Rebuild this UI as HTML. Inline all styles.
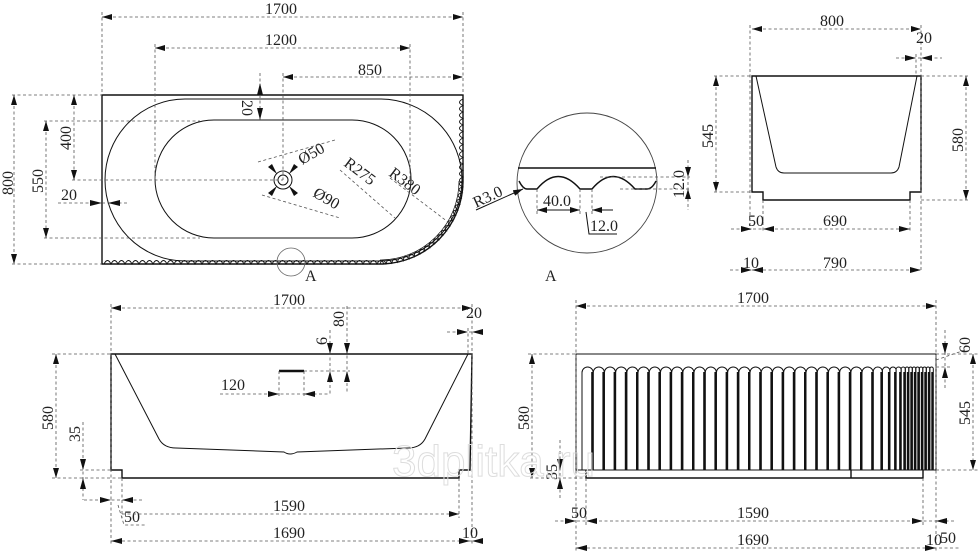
<!DOCTYPE html>
<html><head><meta charset="utf-8"><style>
html,body{margin:0;padding:0;background:#fff;}
svg{display:block}
text{font-family:"Liberation Serif","DejaVu Serif",serif;font-size:16px;fill:#222;}
.d{stroke:#555;stroke-width:0.8;stroke-dasharray:3 2.5;fill:none}
.s{stroke:#111;stroke-width:1.4;fill:none}
.t{stroke:#111;stroke-width:1;fill:none}
.wm{font-family:"Liberation Sans",sans-serif;font-size:44px;fill:none;stroke:#ddd;stroke-width:1}
</style></head><body>
<svg id="sv" width="978" height="553" viewBox="0 0 978 553" xmlns="http://www.w3.org/2000/svg">
<defs>
<marker id="a" viewBox="0 0 10 6" refX="10" refY="3" markerWidth="10" markerHeight="6" orient="auto-start-reverse" markerUnits="userSpaceOnUse"><path d="M0,0L10,3L0,6z" fill="#111"/></marker>
</defs>
<g id="g">
<path class="s" d="M102,95 H463 V182 A83,83 0 0 1 383,264 H102 Z"/>
<path class="t" d="M185,99 H380 A82,81 0 0 1 462,180 A82,81 0 0 1 380,261 H185 A80,81 0 0 1 185,99 Z"/>
<rect class="t" x="155" y="120" width="256" height="118" rx="59" ry="59"/>
<circle class="t" cx="283" cy="180" r="9"/><circle class="t" cx="283" cy="180" r="5"/>
<g id="scal"></g>
<circle cx="291" cy="262" r="14" fill="none" stroke="#666" stroke-width="0.8"/>
<text x="305" y="281" font-size="14">A</text>
<line class="d" x1="102" y1="12" x2="102" y2="95"/><line class="d" x1="463" y1="12" x2="463" y2="95"/>
<line class="d" x1="102" y1="17" x2="463" y2="17" marker-start="url(#a)" marker-end="url(#a)"/>
<text x="265" y="14">1700</text>
<line class="d" x1="155" y1="44" x2="155" y2="180"/><line class="d" x1="410" y1="44" x2="410" y2="180"/>
<line class="d" x1="155" y1="48" x2="410" y2="48" marker-start="url(#a)" marker-end="url(#a)"/>
<text x="265" y="45">1200</text>
<line class="d" x1="283" y1="73" x2="283" y2="180"/>
<line class="d" x1="283" y1="77" x2="463" y2="77" marker-start="url(#a)" marker-end="url(#a)"/>
<text x="358" y="75">850</text>
<line class="d" x1="260" y1="73" x2="260" y2="120"/>
<path d="M260,83 L257,95 L263,95Z M260,120 L257,108 L263,108Z" fill="#111"/>
<text transform="translate(242,100) rotate(90)" font-size="15">20</text>
<line class="d" x1="12" y1="95" x2="102" y2="95"/><line class="d" x1="12" y1="264" x2="102" y2="264"/>
<line class="d" x1="14" y1="95" x2="14" y2="264" marker-start="url(#a)" marker-end="url(#a)"/>
<text transform="translate(13,195) rotate(-90)">800</text>
<line class="d" x1="44" y1="121" x2="200" y2="121"/><line class="d" x1="44" y1="238" x2="200" y2="238"/>
<line class="d" x1="46" y1="121" x2="46" y2="238" marker-start="url(#a)" marker-end="url(#a)"/>
<text transform="translate(43,193) rotate(-90)">550</text>
<line class="d" x1="72" y1="180" x2="283" y2="180"/>
<line class="d" x1="74" y1="95" x2="74" y2="180" marker-start="url(#a)" marker-end="url(#a)"/>
<text transform="translate(71,150) rotate(-90)">400</text>
<line class="d" x1="58" y1="203" x2="128" y2="203"/>
<path d="M102,203 L90,200 L90,206Z M108,203 L120,200 L120,206Z" fill="#111"/>
<text x="61" y="200" font-size="15">20</text>
<line class="d" x1="258" y1="162" x2="335" y2="140"/>
<line class="d" x1="262" y1="195" x2="340" y2="218"/>
<path d="M277,174 L268,167 L272,164Z M289,186 L298,193 L294,196Z M289,174 L298,167 L294,164Z M277,186 L268,193 L272,196Z" fill="#111"/>
<text transform="translate(302,165) rotate(-30)">Ø50</text>
<text transform="translate(312,196) rotate(30)">Ø90</text>
<line class="d" x1="340" y1="170" x2="395" y2="218"/>
<text transform="translate(343,165) rotate(37)">R275</text>
<line class="d" x1="390" y1="178" x2="448" y2="222"/>
<text transform="translate(388,175) rotate(37)">R380</text>
<circle cx="587" cy="183" r="70" fill="none" stroke="#444" stroke-width="0.9"/>
<line class="s" x1="518" y1="168" x2="656" y2="168"/>
<path class="s" d="M519,181 Q523,189 527,189 H537 Q558,164 580,189 H592 Q613,164 635,189 H647 Q652,189 656,181"/>
<line class="d" x1="600" y1="177" x2="690" y2="177"/><line class="d" x1="620" y1="189" x2="690" y2="189"/>
<line class="d" x1="688" y1="160" x2="688" y2="210"/>
<path d="M688,177 L685,167 L691,167Z M688,189 L685,199 L691,199Z" fill="#111"/>
<text transform="translate(684,198) rotate(-90)" font-size="14">12.0</text>
<line class="d" x1="537" y1="189" x2="537" y2="215"/><line class="d" x1="580" y1="189" x2="580" y2="215"/><line class="d" x1="592" y1="189" x2="592" y2="215"/>
<line class="t" x1="537" y1="210" x2="580" y2="210" marker-start="url(#a)" marker-end="url(#a)"/>
<line class="t" x1="592" y1="210" x2="613" y2="210" marker-start="url(#a)"/>
<text x="543" y="206" font-size="15">40.0</text>
<path class="t" d="M586,212 L589,234 H617"/>
<text x="590" y="231" font-size="15">12.0</text>
<line class="t" x1="476" y1="210" x2="523" y2="189" marker-end="url(#a)"/>
<text transform="translate(476,208) rotate(-25)" font-size="15">R3.0</text>
<text x="545" y="281" font-size="17">A</text>
<path class="s" d="M752,76 H921 V192 H910 V200 H763 V192 H752 Z"/>
<path class="t" d="M756,76 L776,167 Q778,173 784,173 H891 Q897,173 899,167 L917,76"/>
<line class="d" x1="750" y1="25" x2="750" y2="230"/><line class="d" x1="921" y1="25" x2="921" y2="270"/>
<line class="d" x1="752" y1="29" x2="921" y2="29" marker-start="url(#a)" marker-end="url(#a)"/>
<text x="820" y="26">800</text>
<line class="d" x1="896" y1="58" x2="942" y2="58"/><line class="d" x1="916" y1="54" x2="916" y2="76"/>
<path d="M916,58 L905,55 L905,61Z M921,58 L932,55 L932,61Z" fill="#111"/>
<text x="916" y="43" font-size="15">20</text>
<line class="d" x1="714" y1="76" x2="752" y2="76"/><line class="d" x1="714" y1="192" x2="752" y2="192"/>
<line class="d" x1="716" y1="76" x2="716" y2="192" marker-start="url(#a)" marker-end="url(#a)"/>
<text transform="translate(713,148) rotate(-90)">545</text>
<line class="d" x1="921" y1="76" x2="970" y2="76"/><line class="d" x1="921" y1="200" x2="970" y2="200"/>
<line class="d" x1="966" y1="76" x2="966" y2="200" marker-start="url(#a)" marker-end="url(#a)"/>
<text transform="translate(963,152) rotate(-90)">580</text>
<line class="d" x1="763" y1="200" x2="763" y2="232"/><line class="d" x1="910" y1="200" x2="910" y2="232"/>
<line class="d" x1="731" y1="229" x2="910" y2="229"/>
<path d="M752,229 L741,226 L741,232Z M763,229 L774,226 L774,232Z M910,229 L899,226 L899,232Z" fill="#111"/>
<text x="748" y="226">50</text><text x="823" y="226">690</text>
<line class="d" x1="730" y1="270" x2="921" y2="270"/>
<path d="M752,270 L741,267 L741,273Z M752,270 L763,267 L763,273Z M921,270 L910,267 L910,273Z" fill="#111"/>
<text x="743" y="268">10</text><text x="823" y="268">790</text>
<path class="s" d="M111,354 H472 L470,470 H459 V478 H122 V470 H111 Z"/>
<path class="t" d="M115,354 L159,439 Q164,448 176,448 L284,452 Q290,456 297,452 L408,448 Q420,448 425,439 L468,354"/>
<line x1="279" y1="371" x2="304" y2="371" stroke="#111" stroke-width="2.5"/>
<line class="d" x1="111" y1="304" x2="111" y2="545"/><line class="d" x1="472" y1="304" x2="472" y2="545"/>
<line class="d" x1="111" y1="308" x2="472" y2="308" marker-start="url(#a)" marker-end="url(#a)"/>
<text x="273" y="305">1700</text>
<line class="d" x1="447" y1="332" x2="485" y2="332"/><line class="d" x1="468" y1="328" x2="468" y2="354"/>
<path d="M468,332 L457,329 L457,335Z M472,332 L483,329 L483,335Z" fill="#111"/>
<text x="466" y="318" font-size="15">20</text>
<line class="d" x1="347" y1="306" x2="347" y2="394"/>
<path d="M347,354 L344,343 L350,343Z M347,371 L344,382 L350,382Z" fill="#111"/>
<text transform="translate(344,327) rotate(-90)" font-size="15">80</text>
<line class="d" x1="304" y1="371" x2="350" y2="371"/>
<line class="d" x1="330" y1="330" x2="330" y2="394"/>
<path d="M330,354 L327,343 L333,343Z M330,371 L327,382 L333,382Z" fill="#111"/>
<text transform="translate(327,345) rotate(-90)" font-size="15">6</text>
<line class="d" x1="279" y1="371" x2="279" y2="396"/><line class="d" x1="304" y1="371" x2="304" y2="396"/>
<line class="d" x1="220" y1="394" x2="330" y2="394"/>
<path d="M279,394 L268,391 L268,397Z M304,394 L315,391 L315,397Z" fill="#111"/>
<text x="221" y="390">120</text>
<line class="d" x1="52" y1="354" x2="111" y2="354"/><line class="d" x1="52" y1="478" x2="122" y2="478"/>
<line class="d" x1="56" y1="354" x2="56" y2="478" marker-start="url(#a)" marker-end="url(#a)"/>
<text transform="translate(53,430) rotate(-90)">580</text>
<line class="d" x1="80" y1="470" x2="111" y2="470"/>
<line class="d" x1="83" y1="422" x2="83" y2="500"/>
<path d="M83,470 L80,459 L86,459Z M83,478 L80,489 L86,489Z" fill="#111"/>
<text transform="translate(80,442) rotate(-90)" font-size="15">35</text>
<line class="d" x1="122" y1="478" x2="122" y2="518"/><line class="d" x1="459" y1="478" x2="459" y2="518"/>
<line class="d" x1="84" y1="500" x2="144" y2="500"/>
<path d="M111,500 L100,497 L100,503Z M122,500 L133,497 L133,503Z" fill="#111"/>
<path class="d" d="M118,505 L124,525 H145"/>
<text x="124" y="522" font-size="15">50</text>
<line class="d" x1="122" y1="514" x2="459" y2="514" marker-end="url(#a)"/>
<text x="273" y="511">1590</text>
<line class="d" x1="111" y1="541" x2="485" y2="541"/>
<path d="M111,541 L122,538 L122,544Z M470,541 L459,538 L459,544Z M472,541 L483,538 L483,544Z" fill="#111"/>
<text x="273" y="538">1690</text><text x="462" y="538" font-size="15">10</text>
<rect class="t" x="576" y="354" width="360" height="116" stroke-width="1.2"/>
<path class="s" d="M586,470 V478 H923 V470 M851,470 V478"/>
<g id="flutes"></g>
<line class="d" x1="576" y1="300" x2="576" y2="553"/><line class="d" x1="936" y1="300" x2="936" y2="553"/>
<line class="d" x1="576" y1="306" x2="936" y2="306" marker-start="url(#a)" marker-end="url(#a)"/>
<text x="737" y="303">1700</text>
<line class="d" x1="936" y1="367" x2="950" y2="367"/>
<line class="d" x1="945" y1="330" x2="945" y2="390"/>
<path d="M945,354 L942,343 L948,343Z M945,367 L942,378 L948,378Z" fill="#111"/>
<path class="d" d="M936,360 L965,350"/>
<text transform="translate(970,353) rotate(-90)" font-size="15">60</text>
<line class="d" x1="936" y1="354" x2="978" y2="354"/><line class="d" x1="936" y1="470" x2="978" y2="470"/>
<line class="d" x1="973" y1="354" x2="973" y2="470" marker-start="url(#a)" marker-end="url(#a)"/>
<text transform="translate(970,425) rotate(-90)">545</text>
<line class="d" x1="528" y1="354" x2="576" y2="354"/>
<line class="d" x1="532" y1="354" x2="532" y2="478" marker-start="url(#a)" marker-end="url(#a)"/>
<text transform="translate(529,430) rotate(-90)">580</text>
<line class="d" x1="530" y1="478" x2="586" y2="478"/>
<line class="d" x1="560" y1="440" x2="560" y2="500"/>
<path d="M560,470 L557,459 L563,459Z M560,478 L557,489 L563,489Z" fill="#111"/>
<text transform="translate(557,480) rotate(-90)" font-size="14">35</text>
<line class="d" x1="586" y1="478" x2="586" y2="525"/><line class="d" x1="923" y1="478" x2="923" y2="525"/>
<line class="d" x1="555" y1="521" x2="955" y2="521"/>
<path d="M576,521 L565,518 L565,524Z M586,521 L597,518 L597,524Z M923,521 L912,518 L912,524Z M936,521 L947,518 L947,524Z" fill="#111"/>
<text x="571" y="518" font-size="15">50</text><text x="737" y="518">1590</text>
<line class="d" x1="576" y1="548" x2="960" y2="548"/>
<path d="M576,548 L587,545 L587,551Z M936,548 L925,545 L925,551Z" fill="#111"/>
<text x="737" y="545">1690</text><text x="926" y="545" font-size="15">10</text><text x="940" y="543" font-size="15">50</text>
<text class="wm" x="392" y="476">3dplitka.ru</text>
</g>
</svg>
<script>
(function(){
var NS="http://www.w3.org/2000/svg";
function p(par,d,w){var e=document.createElementNS(NS,"path");e.setAttribute("d",d);e.setAttribute("fill","none");e.setAttribute("stroke","#111");e.setAttribute("stroke-width",w||1);par.appendChild(e);}
var sc=document.getElementById("scal");
var d="M104,264";for(var x=104;x<378;x+=7){d+=" Q"+(x+3.5)+",257 "+(x+7)+",264";}
p(sc,d,0.9);
var d2="M463,99";for(var y=99;y<178;y+=6.5){d2+=" Q456,"+(y+3.25)+" 463,"+(y+6.5);}
p(sc,d2,0.9);
var cx=380,cy=181,r=83,n=22,d3="";
for(var i=0;i<n;i++){var a1=i/n*Math.PI/2,a2=(i+1)/n*Math.PI/2,am=(a1+a2)/2;
var x1=cx+r*Math.cos(a1),y1=cy+r*Math.sin(a1),x2=cx+r*Math.cos(a2),y2=cy+r*Math.sin(a2),xm=cx+(r-7)*Math.cos(am),ym=cy+(r-7)*Math.sin(am);
d3+=(i==0?"M"+x1+","+y1:"")+" Q"+xm+","+ym+" "+x2+","+y2;}
p(sc,d3,0.9);p(sc,"M"+(cx+(r-4))+","+cy+" A"+(r-4)+","+(r-4)+" 0 0 1 "+cx+","+(cy+r-4),0.7);
var fl=document.getElementById("flutes");
var x=582,w=11.2,top=367,bot=470;
while(x<933){
 var ww=Math.min(w,935-x);
 p(fl,"M"+x+","+bot+" V"+(top+ww/2)+" A"+(ww/2)+","+(ww/2)+" 0 0 1 "+(x+ww)+","+(top+ww/2)+" V"+bot,1);
 p(fl,"M"+(x+ww-1)+","+(top+5)+" V"+bot,2);
 x+=ww; if(x>870) w*=0.82; if(w<3.5)w=3.5;
}
})();
</script>
</body></html>
